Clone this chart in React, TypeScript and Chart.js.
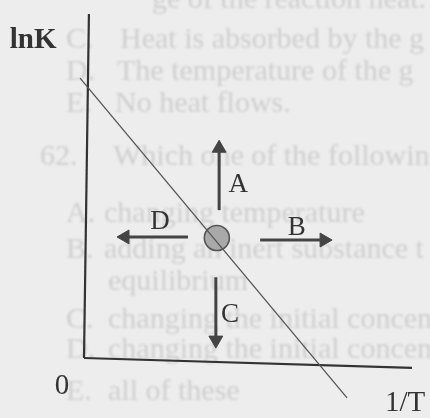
import React, { useEffect, useRef } from "react";
import { Chart, registerables } from "chart.js";

Chart.register(...registerables);

// ---- data (1/T on x, lnK on y, arbitrary units) ----
const xAxisLine = [
  { x: 0, y: 0 },
  { x: 10, y: -0.29 },
];
const yAxisLine = [
  { x: 0, y: 0 },
  { x: 0.15, y: 10 },
];
const equilibriumLine = [
  { x: -0.12, y: 8.14 },
  { x: 8.02, y: -1.16 },
];
const statePoint = [{ x: 4.05, y: 3.49 }];
const arrowA = [
  { x: 4.12, y: 4.3 },
  { x: 4.12, y: 6.1 },
];
const arrowB = [
  { x: 5.37, y: 3.43 },
  { x: 7.32, y: 3.43 },
];
const arrowC = [
  { x: 4.02, y: 2.35 },
  { x: 4.02, y: 0.52 },
];
const arrowD = [
  { x: 3.17, y: 3.52 },
  { x: 1.25, y: 3.52 },
];
const arrowLabels = ["A", "B", "C", "D"];
const arrowLabelX = [4.7, 6.49, 4.45, 2.32];
const arrowLabelY = [5.03, 3.78, 1.25, 3.95];
const axisLabels = ["lnK", "0", "1/T"];
const axisLabelX = [-1.55, -0.67, 9.79];
const axisLabelY = [9.22, -0.84, -1.31];

// faint text showing through from the reverse side of the page
const pageLines = [
  "ge of the reaction heat.",
  "C.",
  "Heat is absorbed by the g",
  "D.",
  "The temperature of the g",
  "E.",
  "No heat flows.",
  "62.",
  "Which one of the following",
  "A.",
  "changing temperature",
  "B.",
  "adding an inert substance t",
  "equilibrium",
  "C.",
  "changing the initial concentr",
  "D.",
  "changing the initial concentr",
  "E.",
  "all of these",
];
const pageLineLayout: [number, number][] = [
  [152, 8],
  [66, 48],
  [120, 48],
  [66, 80],
  [117, 80],
  [66, 112],
  [115, 112],
  [40, 165],
  [113, 165],
  [66, 222],
  [104, 222],
  [66, 258],
  [104, 258],
  [108, 290],
  [66, 328],
  [108, 328],
  [66, 358],
  [108, 358],
  [66, 400],
  [108, 400],
];

const SERIF = '"Liberation Serif", "DejaVu Serif", serif';

const pagePlugin = {
  id: "pagePlugin",
  beforeDraw(chart: any) {
    const ctx = chart.ctx;
    ctx.save();
    ctx.fillStyle = "#ededed";
    ctx.fillRect(0, 0, chart.width, chart.height);
    ctx.filter = "blur(1.2px)";
    ctx.fillStyle = "#cfcfcf";
    ctx.font = `30px ${SERIF}`;
    ctx.textBaseline = "alphabetic";
    ctx.textAlign = "left";
    pageLines.forEach((t, i) => {
      const [px, py] = pageLineLayout[i];
      ctx.fillText(t, px, py);
    });
    ctx.restore();
  },
  afterDatasetsDraw(chart: any) {
    const ctx = chart.ctx;
    const xs = chart.scales.x;
    const ys = chart.scales.y;
    ctx.save();
    ctx.fillStyle = "#333333";
    ctx.textAlign = "center";
    ctx.textBaseline = "middle";
    ctx.font = `27px ${SERIF}`;
    arrowLabels.forEach((t, i) => {
      ctx.fillText(t, xs.getPixelForValue(arrowLabelX[i]), ys.getPixelForValue(arrowLabelY[i]));
    });
    axisLabels.forEach((t, i) => {
      ctx.font = i === 0 ? `bold 29px ${SERIF}` : `29px ${SERIF}`;
      ctx.fillText(t, xs.getPixelForValue(axisLabelX[i]), ys.getPixelForValue(axisLabelY[i]));
    });
    ctx.restore();
  },
};

function arrowDataset(data: { x: number; y: number }[], rotation: number) {
  return {
    data,
    showLine: true,
    borderColor: "#444444",
    borderWidth: 3,
    pointRadius: [0, 8],
    pointStyle: "triangle",
    rotation: [0, rotation],
    pointBackgroundColor: "#444444",
    pointBorderColor: "#444444",
    pointBorderWidth: 1,
    clip: false,
  };
}

export default function App() {
  const ref = useRef<HTMLCanvasElement | null>(null);
  useEffect(() => {
    if (!ref.current) return;
    const chart = new Chart(ref.current, {
      type: "scatter",
      data: {
        datasets: [
          {
            data: equilibriumLine,
            showLine: true,
            borderColor: "#555555",
            borderWidth: 1.3,
            pointRadius: 0,
            clip: false,
          } as any,
          {
            data: statePoint,
            pointRadius: 12.5,
            pointBackgroundColor: "#a9a9a9",
            pointBorderColor: "#555555",
            pointBorderWidth: 1.6,
            clip: false,
          },
          arrowDataset(arrowA, 0),
          arrowDataset(arrowB, 90),
          arrowDataset(arrowC, 180),
          arrowDataset(arrowD, 270),
          {
            data: xAxisLine,
            showLine: true,
            borderColor: "#333333",
            borderWidth: 2.2,
            pointRadius: 0,
            clip: false,
          },
          {
            data: yAxisLine,
            showLine: true,
            borderColor: "#333333",
            borderWidth: 2.2,
            pointRadius: 0,
            clip: false,
          },
        ] as any,
      },
      options: {
        animation: false,
        responsive: false,
        devicePixelRatio: 1,
        layout: { padding: { left: 84, right: 18, top: 14, bottom: 60 } },
        scales: {
          x: { type: "linear", min: 0, max: 10, display: false },
          y: { type: "linear", min: 0, max: 10, display: false },
        },
        plugins: { legend: { display: false }, tooltip: { enabled: false } },
        elements: { line: { tension: 0 } },
      },
      plugins: [pagePlugin],
    });
    return () => chart.destroy();
  }, []);
  return (
    <div style={{ position: "fixed", left: 0, top: 0, width: 430, height: 418 }}>
      <canvas ref={ref} width={430} height={418} style={{ display: "block" }} />
    </div>
  );
}
